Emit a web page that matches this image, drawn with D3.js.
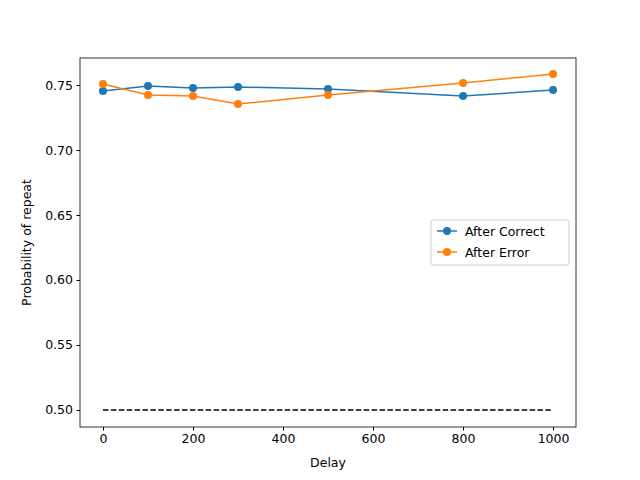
<!DOCTYPE html>
<html><head><meta charset="utf-8">
<script src="https://cdn.jsdelivr.net/npm/d3@7"></script>
<style>body{margin:0;background:#fff}text{font-family:"DejaVu Sans",sans-serif}</style>
</head><body>
<script>
var delays = [0, 100, 200, 300, 500, 800, 1000];
var afterCorrect = [0.7454, 0.7492, 0.7477, 0.7485, 0.7469, 0.7415, 0.7462];
var afterError = [0.7508, 0.7423, 0.7415, 0.7354, 0.7423, 0.7515, 0.7585];
var chance = 0.5;
var yTicks = [0.50, 0.55, 0.60, 0.65, 0.70, 0.75];
var xTicks = [0, 200, 400, 600, 800, 1000];

var svg = d3.select('body').append('svg').attr('width', 640).attr('height', 480);
var margin = {left: 80, top: 58, right: 64, bottom: 53};
var width = 640 - margin.left - margin.right;
var height = 480 - margin.top - margin.bottom;
var g = svg.append('g').attr('transform', `translate(${margin.left},${margin.top})`);

var x = d3.scaleLinear().domain([-51.1, 1051]).range([0, width]);
var y = d3.scaleLinear().domain([0.4869, 0.7708]).range([height, 0]);

var xAxis = g.append('g').attr('transform', `translate(0,${height})`)
    .call(d3.axisBottom(x).tickValues(xTicks).tickFormat(d3.format('d')).tickSizeOuter(0).tickSize(3.5).tickPadding(3.5));
var yAxis = g.append('g')
    .call(d3.axisLeft(y).tickValues(yTicks).tickFormat(d3.format('.2f')).tickSizeOuter(0).tickSize(3.5).tickPadding(3.5));
[xAxis, yAxis].forEach(function(a){
    a.selectAll('text').attr('font-size', 12.5).attr('fill', '#000');
    a.selectAll('line').attr('stroke', '#000');
    a.select('.domain').remove();
});
g.append('rect').attr('width', width).attr('height', height).attr('fill', 'none').attr('stroke', '#000').attr('stroke-width', 0.8);

g.append('line').attr('x1', x(0)).attr('x2', x(1000)).attr('y1', y(chance)).attr('y2', y(chance))
    .attr('stroke', '#000').attr('stroke-width', 1.5).attr('stroke-dasharray', '5.5,2.4');

var series = [
    {name: 'After Correct', values: afterCorrect, color: '#1f77b4'},
    {name: 'After Error', values: afterError, color: '#ff7f0e'}
];
var line = d3.line().x((d, i) => x(delays[i])).y(d => y(d));
series.forEach(function(s){
    g.append('path').attr('d', line(s.values)).attr('fill', 'none').attr('stroke', s.color).attr('stroke-width', 1.5);
    g.selectAll(null).data(s.values).enter().append('circle')
        .attr('cx', (d, i) => x(delays[i])).attr('cy', d => y(d)).attr('r', 4).attr('fill', s.color);
});

svg.append('text').attr('x', margin.left + width / 2).attr('y', 467).attr('text-anchor', 'middle').attr('font-size', 12.5).text('Delay');
svg.append('text').attr('transform', `translate(31,${margin.top + height / 2}) rotate(-90)`).attr('text-anchor', 'middle').attr('font-size', 12.5).text('Probability of repeat');

var leg = svg.append('g').attr('transform', 'translate(431,220)');
leg.append('rect').attr('width', 138).attr('height', 45).attr('rx', 2).attr('fill', '#fff').attr('fill-opacity', 0.8).attr('stroke', '#ccc');
series.forEach(function(s, i){
    var yy = 11 + i * 21;
    leg.append('line').attr('x1', 6).attr('x2', 26).attr('y1', yy).attr('y2', yy).attr('stroke', s.color).attr('stroke-width', 1.5);
    leg.append('circle').attr('cx', 16).attr('cy', yy).attr('r', 4).attr('fill', s.color);
    leg.append('text').attr('x', 34).attr('y', yy + 4.5).attr('font-size', 12.5).text(s.name);
});
</script>
</body></html>
